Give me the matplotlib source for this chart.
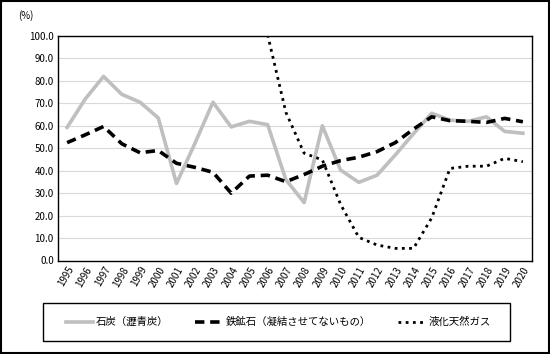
import numpy as np
import matplotlib.pyplot as plt

plt.rcParams['font.family'] = ['Noto Sans CJK JP', 'DejaVu Sans']

years = [str(y) for y in range(1995, 2021)]

# 石炭（瀝青炭）
coal = [59.3, 72.0, 82.0, 74.0, 70.5, 63.5, 34.3, 52.0, 70.5, 59.5, 62.0, 60.5,
        36.0, 25.8, 60.0, 40.3, 34.8, 38.0, 47.0, 56.5, 65.6, 62.5, 62.0, 64.0,
        57.5, 56.7]

# 鉄鉱石（凝結させてないもの）
iron = [52.5, 56.0, 59.7, 52.0, 48.0, 49.0, 43.3, 41.5, 39.3, 30.0, 37.6, 38.0,
        35.1, 38.3, 42.0, 44.5, 46.0, 48.5, 52.5, 58.5, 64.0, 62.3, 62.0, 61.5,
        63.3, 61.8]

# 液化天然ガス
lng = [np.nan] * 11 + [100.5, 66.0, 47.8, 44.8, 25.0, 10.3, 6.9, 5.4, 5.4,
                       19.0, 41.0, 42.0, 42.0, 45.5, 44.0]

labels = ['石炭（瀝青炭）', '鉄鉱石（凝結させてないもの）', '液化天然ガス']

fig = plt.figure(figsize=(5.5, 3.54), dpi=100)
ax = fig.add_axes([58 / 550, 1 - 260.5 / 354, 474 / 550, 224.5 / 354])

x = np.arange(len(years))
ax.plot(x, coal, color='#bfbfbf', lw=2.6, label=labels[0])
ax.plot(x, iron, color='black', lw=2.6, linestyle=(0, (2.6, 1.6)), label=labels[1])
ax.plot(x, lng, color='black', lw=2.0, linestyle=(0, (1, 1.6)), label=labels[2])

ax.set_xlim(-0.5, len(years) - 0.5)
ax.set_ylim(0, 100)
ax.set_yticks(np.arange(0, 101, 10))
ax.set_yticklabels([f'{v:.1f}' for v in np.arange(0, 101, 10)], fontsize=7)
ax.set_xticks(x)
ax.set_xticklabels(years, fontsize=7, rotation=60, ha='right', rotation_mode='anchor')
ax.tick_params(length=0, pad=3)
ax.grid(axis='y', color='#d9d9d9', lw=0.8)
ax.set_axisbelow(True)
for s in ax.spines.values():
    s.set_linewidth(1.0)
    s.set_color('black')

fig.text(18 / 550, 1 - 16 / 354, '(%)', fontsize=7, va='center')

# legend box
fig.patches.append(plt.Rectangle((43 / 550, 1 - 341 / 354), 467 / 550, 38 / 354,
                                 transform=fig.transFigure, fill=False,
                                 edgecolor='black', lw=1.0))
fig.legend(loc='center', ncol=3, bbox_to_anchor=(278 / 550, 1 - 322 / 354),
           fontsize=7.5, frameon=False, handlelength=2.6, handletextpad=0.3,
           columnspacing=2.6)

# outer frame
fig.patches.append(plt.Rectangle((0.001, 0.002), 0.997, 0.996, transform=fig.transFigure,
                                 fill=False, edgecolor='black', lw=1.5))

fig.savefig('out.png', dpi=100)
